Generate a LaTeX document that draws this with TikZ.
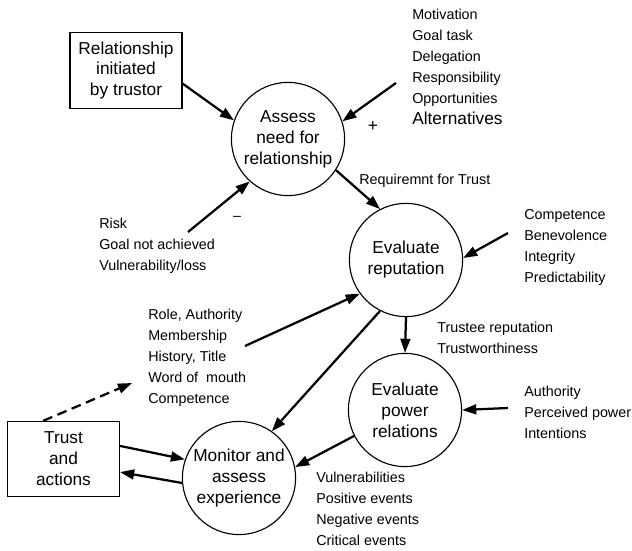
\documentclass[tikz,border=0pt]{standalone}
\usepackage{fontspec}
\setmainfont{Liberation Sans}
\usetikzlibrary{arrows.meta}

\begin{document}
\begin{tikzpicture}[x=0.025cm,y=-0.025cm,
    stage/.style={draw,circle,minimum size=2.83cm,inner sep=0pt,align=center,
        font=\fontsize{12.3}{14.9}\selectfont,line width=0.8pt},
    actor/.style={draw,rectangle,minimum width=2.8cm,minimum height=1.88cm,
        inner sep=0pt,align=center,font=\fontsize{12.3}{14.9}\selectfont,line width=0.8pt},
    factors/.style={anchor=north west,inner sep=0pt,align=left,
        font=\fontsize{10.2}{14.9}\selectfont},
    flow/.style={line width=1.6pt,-{Triangle[length=10pt,width=7pt]}}]
    \useasboundingbox (0,0) rectangle (632,551);

    % stages and actors
    \node[stage] (assess) at (288,139) {Assess\\need for\\relationship};
    \node[stage] (rep) at (406,260) {Evaluate\\reputation};
    \node[stage] (power) at (405,410) {Evaluate\\power\\relations};
    \node[stage] (mon) at (239,478) {Monitor and\\assess\\experience};
    \node[actor] (init) at (126,70.5) {Relationship\\initiated\\by trustor};
    \node[actor] (trust) at (63.5,459) {Trust\\and\\actions};

    % factor lists
    \node[factors] (motiv) at (412,9) {Motivation\\Goal task\\Delegation\\Responsibility\\Opportunities\\
        {\fontsize{12.3}{14.9}\selectfont Alternatives}};
    \node[factors] (risk) at (99,218) {Risk\\Goal not achieved\\Vulnerability/loss};
    \node[factors] (role) at (148,309) {Role, Authority\\Membership\\History, Title\\Word of~ mouth\\Competence};
    \node[factors] (comp) at (524,209) {Competence\\Benevolence\\Integrity\\Predictability};
    \node[factors] (trustee) at (437,322) {Trustee reputation\\Trustworthiness};
    \node[factors] (auth) at (524,386) {Authority\\Perceived power\\Intentions};
    \node[factors] (events) at (316,472) {Vulnerabilities\\Positive events\\Negative events\\Critical events};
    \node[factors] (req) at (359,174) {Requiremnt for Trust};
    \node[font=\fontsize{12.3}{14.9}\selectfont] (plus) at (373,127) {+};
    \node[font=\fontsize{10.2}{14.9}\selectfont] (minus) at (237,218) {\textendash};

    % free ends
    \coordinate (motivEnd) at (396,83);
    \coordinate (riskEnd) at (188,232);
    \coordinate (roleEnd) at (245,346);
    \coordinate (compEnd) at (508,233);
    \coordinate (authEnd) at (508,408);
    \coordinate (dashEnd) at (132,383);

    \draw[flow] (init.-13) -- (assess.161);
    \draw[flow] (motivEnd) -- (assess.18);
    \draw[flow] (riskEnd) -- (assess.228);
    \draw[flow] (assess.-33) -- (rep.117);
    \draw[flow] (compEnd) -- (rep.2);
    \draw[flow] (roleEnd) -- (rep.216);
    \draw[flow] (rep.243) -- (mon.55);
    \draw[flow] (rep.south) -- (power.north);
    \draw[flow] (authEnd) -- (power.east);
    \draw[flow] (power.207) -- (mon.11);
    \draw[flow] (trust.13) -- (mon.161);
    \draw[flow] (mon.185) -- (trust.-13);
    \draw[flow,dash pattern=on 7pt off 4pt] (trust.118) -- (dashEnd);
\end{tikzpicture}
\end{document}
